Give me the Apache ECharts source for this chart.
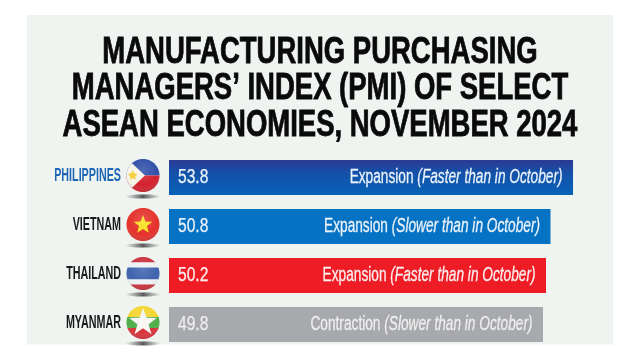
<!DOCTYPE html>
<html><head><meta charset="utf-8">
<style>html,body{margin:0;padding:0;background:#fff}#c{width:640px;height:360px}</style>
<script src="https://cdn.jsdelivr.net/npm/echarts@6/dist/echarts.min.js"></script>
</head><body><div id="c"></div>
<script>
const titleLines = ["MANUFACTURING PURCHASING","MANAGERS\u2019 INDEX (PMI) OF SELECT","ASEAN ECONOMIES, NOVEMBER 2024"];
const countries = ["PHILIPPINES","VIETNAM","THAILAND","MYANMAR"];
const pmi = [53.8,50.8,50.2,49.8];
const statusWords = ["Expansion","Expansion","Expansion","Contraction"];
const paceNotes = ["(Faster than in October)","(Slower than in October)","(Faster than in October)","(Slower than in October)"];
const barColors = ["#0b55ad","#0672c4","#ee1c25","#a7a9ac"];
const labelColors = ["#1f67b5","#1a1a1a","#1a1a1a","#1a1a1a"];
const statusColors = ["#eaf2fa","#eaf2fa","#fdeeee","#eeeeee"];

const R=[[-1.2,-1.2],[1.2,-1.2],[1.2,1.2],[-1.2,1.2]];
const band=(a,b)=>[[-1.2,a],[1.2,a],[1.2,b],[-1.2,b]];
const star=(cx,cy,r,k)=>{const p=[];for(let i=0;i<10;i++){const t=-Math.PI/2+i*Math.PI/5,q=i%2?r*k:r;p.push([cx+q*Math.cos(t),cy+q*Math.sin(t)]);}return p;};
const flags=[
 [["#2f4fa8",band(-1.2,0)],["#d3222e",band(0,1.2)],["#f7f4e8",[[-1.2,-1.25],[0.12,0],[-1.2,1.25]]]],
 [["#e5322c",R]],
 [["#c9303c",band(-1.2,-0.66)],["#eef0f4",band(-0.66,-0.36)],["#3f62ad",band(-0.36,0.36)],["#eef0f4",band(0.36,0.66)],["#c9303c",band(0.66,1.2)]],
 [["#f4d52f",band(-1.2,-0.33)],["#4fae4a",band(-0.33,0.33)],["#d9333a",band(0.33,1.2)]]
];
const flagStars=[[["#f6cf3a",star(-0.62,0,0.3,0.55)]],[["#f7e01f",star(0,0.02,0.6,0.42)]],[],[["#f6f6f2",star(0,0,0.88,0.4)]]];

function clipCircle(poly){
  let out=[];for(let i=0;i<72;i++){const t=i/72*2*Math.PI;out.push([Math.cos(t),Math.sin(t)]);}
  let area=0;for(let i=0;i<poly.length;i++){const a=poly[i],b=poly[(i+1)%poly.length];area+=a[0]*b[1]-b[0]*a[1];}
  const s=area>0?1:-1;
  for(let i=0;i<poly.length;i++){const a=poly[i],b=poly[(i+1)%poly.length];const side=p=>s*((b[0]-a[0])*(p[1]-a[1])-(b[1]-a[1])*(p[0]-a[0]));
    const res=[];for(let j=0;j<out.length;j++){const p=out[j],q=out[(j+1)%out.length],sp=side(p),sq=side(q);
      if(sp>=0)res.push(p);
      if((sp>=0)!==(sq>=0)){const k=sp/(sp-sq);res.push([p[0]+k*(q[0]-p[0]),p[1]+k*(q[1]-p[1])]);}}
    out=res;if(!out.length)break;}
  return out;
}
const sans='"Liberation Sans",Arial,sans-serif';
function renderFlag(params,api){
  const i=api.value(1);
  const base=api.coord([0,i]);
  const cx=base[0]-26,cy=base[1]-2,r=16.5;
  const ch=[];
  ch.push({type:'polygon',shape:{points:Array.from({length:36},(_,k)=>[cx+18*Math.cos(k/36*2*Math.PI),cy+21+2*Math.sin(k/36*2*Math.PI)])},
    style:{fill:{type:'linear',x:0,y:0,x2:1,y2:0,colorStops:[{offset:0,color:'rgba(90,90,90,0)'},{offset:.5,color:'rgba(60,60,60,.85)'},{offset:1,color:'rgba(90,90,90,0)'}]}}});
  flags[i].forEach(f=>{const pts=clipCircle(f[1]).map(p=>[cx+r*p[0],cy+r*p[1]]);if(pts.length)ch.push({type:'polygon',shape:{points:pts},style:{fill:f[0]}});});
  flagStars[i].forEach(f=>ch.push({type:'polygon',shape:{points:f[1].map(p=>[cx+r*p[0],cy+r*p[1]])},style:{fill:f[0]}}));
  ch.push({type:'circle',shape:{cx:cx,cy:cy,r:r},style:{fill:{type:'radial',x:.5,y:.35,r:.75,colorStops:[{offset:0,color:'rgba(255,255,255,.15)'},{offset:.6,color:'rgba(255,255,255,0)'},{offset:1,color:'rgba(0,0,0,.28)'}]}}});
  ch.push({type:'text',x:base[0]-48,y:base[1]-2,scaleX:.565,style:{text:countries[i],align:'right',verticalAlign:'middle',fontFamily:sans,fontSize:19,fontWeight:'bold',fill:labelColors[i]}});
  return {type:'group',children:ch};
}
function renderBarText(params,api){
  const i=api.value(1),v=api.value(0);
  const y=api.coord([0,i])[1],x0=api.coord([0,i])[0],x1=api.coord([v,i])[0];
  return {type:'group',children:[
    {type:'text',x:x0+9,y:y,scaleX:.8,style:{text:v.toFixed(1),align:'left',verticalAlign:'middle',fontFamily:sans,fontSize:19.5,fill:statusColors[i],stroke:statusColors[i],lineWidth:.25}},
    {type:'text',x:x1-10.5,y:y,scaleX:.684,style:{text:'{a|'+statusWords[i]+' }{b|'+paceNotes[i]+'}',align:'right',verticalAlign:'middle',
      rich:{a:{fontFamily:sans,fontSize:20,fill:statusColors[i],stroke:statusColors[i],lineWidth:.3},b:{fontFamily:sans,fontSize:20,fontStyle:'italic',fill:statusColors[i],stroke:statusColors[i],lineWidth:.3}}}}
  ]};
}
const chart=echarts.init(document.getElementById('c'),null,{renderer:'canvas'});
chart.setOption({
  animation:false,
  backgroundColor:'#ffffff',
  graphic:[{type:'rect',z:-10,silent:true,shape:{x:27,y:15,width:586,height:329.5},style:{fill:'#eff4f0'}}]
   .concat(titleLines.map((t,i)=>({type:'text',z:5,silent:true,x:320,y:52.5+i*36.7,scaleX:.743,
     style:{text:t,align:'center',verticalAlign:'middle',fontFamily:sans,fontSize:37,fontWeight:'bold',fill:'#0a0a0a',stroke:'#0a0a0a',lineWidth:.8}}))),
  grid:{left:169,top:153,width:450.6,height:196},
  xAxis:{type:'value',min:0,max:60,show:false},
  yAxis:{type:'category',inverse:true,data:countries,show:false},
  series:[
    {type:'bar',barWidth:35,z:2,
     data:pmi.map((v,i)=>({value:v,itemStyle:{color:i===0?{type:'linear',x:0,y:0,x2:0,y2:1,colorStops:[{offset:0,color:'#2c3a94'},{offset:.35,color:'#1550a8'},{offset:1,color:'#0662b8'}]}:barColors[i]}}))},
    {type:'custom',z:4,clip:false,renderItem:renderFlag,data:countries.map((c,i)=>[0,i]),encode:{x:0,y:1}},
    {type:'custom',z:5,clip:false,renderItem:renderBarText,data:pmi.map((v,i)=>[v,i]),encode:{x:0,y:1}}
  ]
});
</script></body></html>
